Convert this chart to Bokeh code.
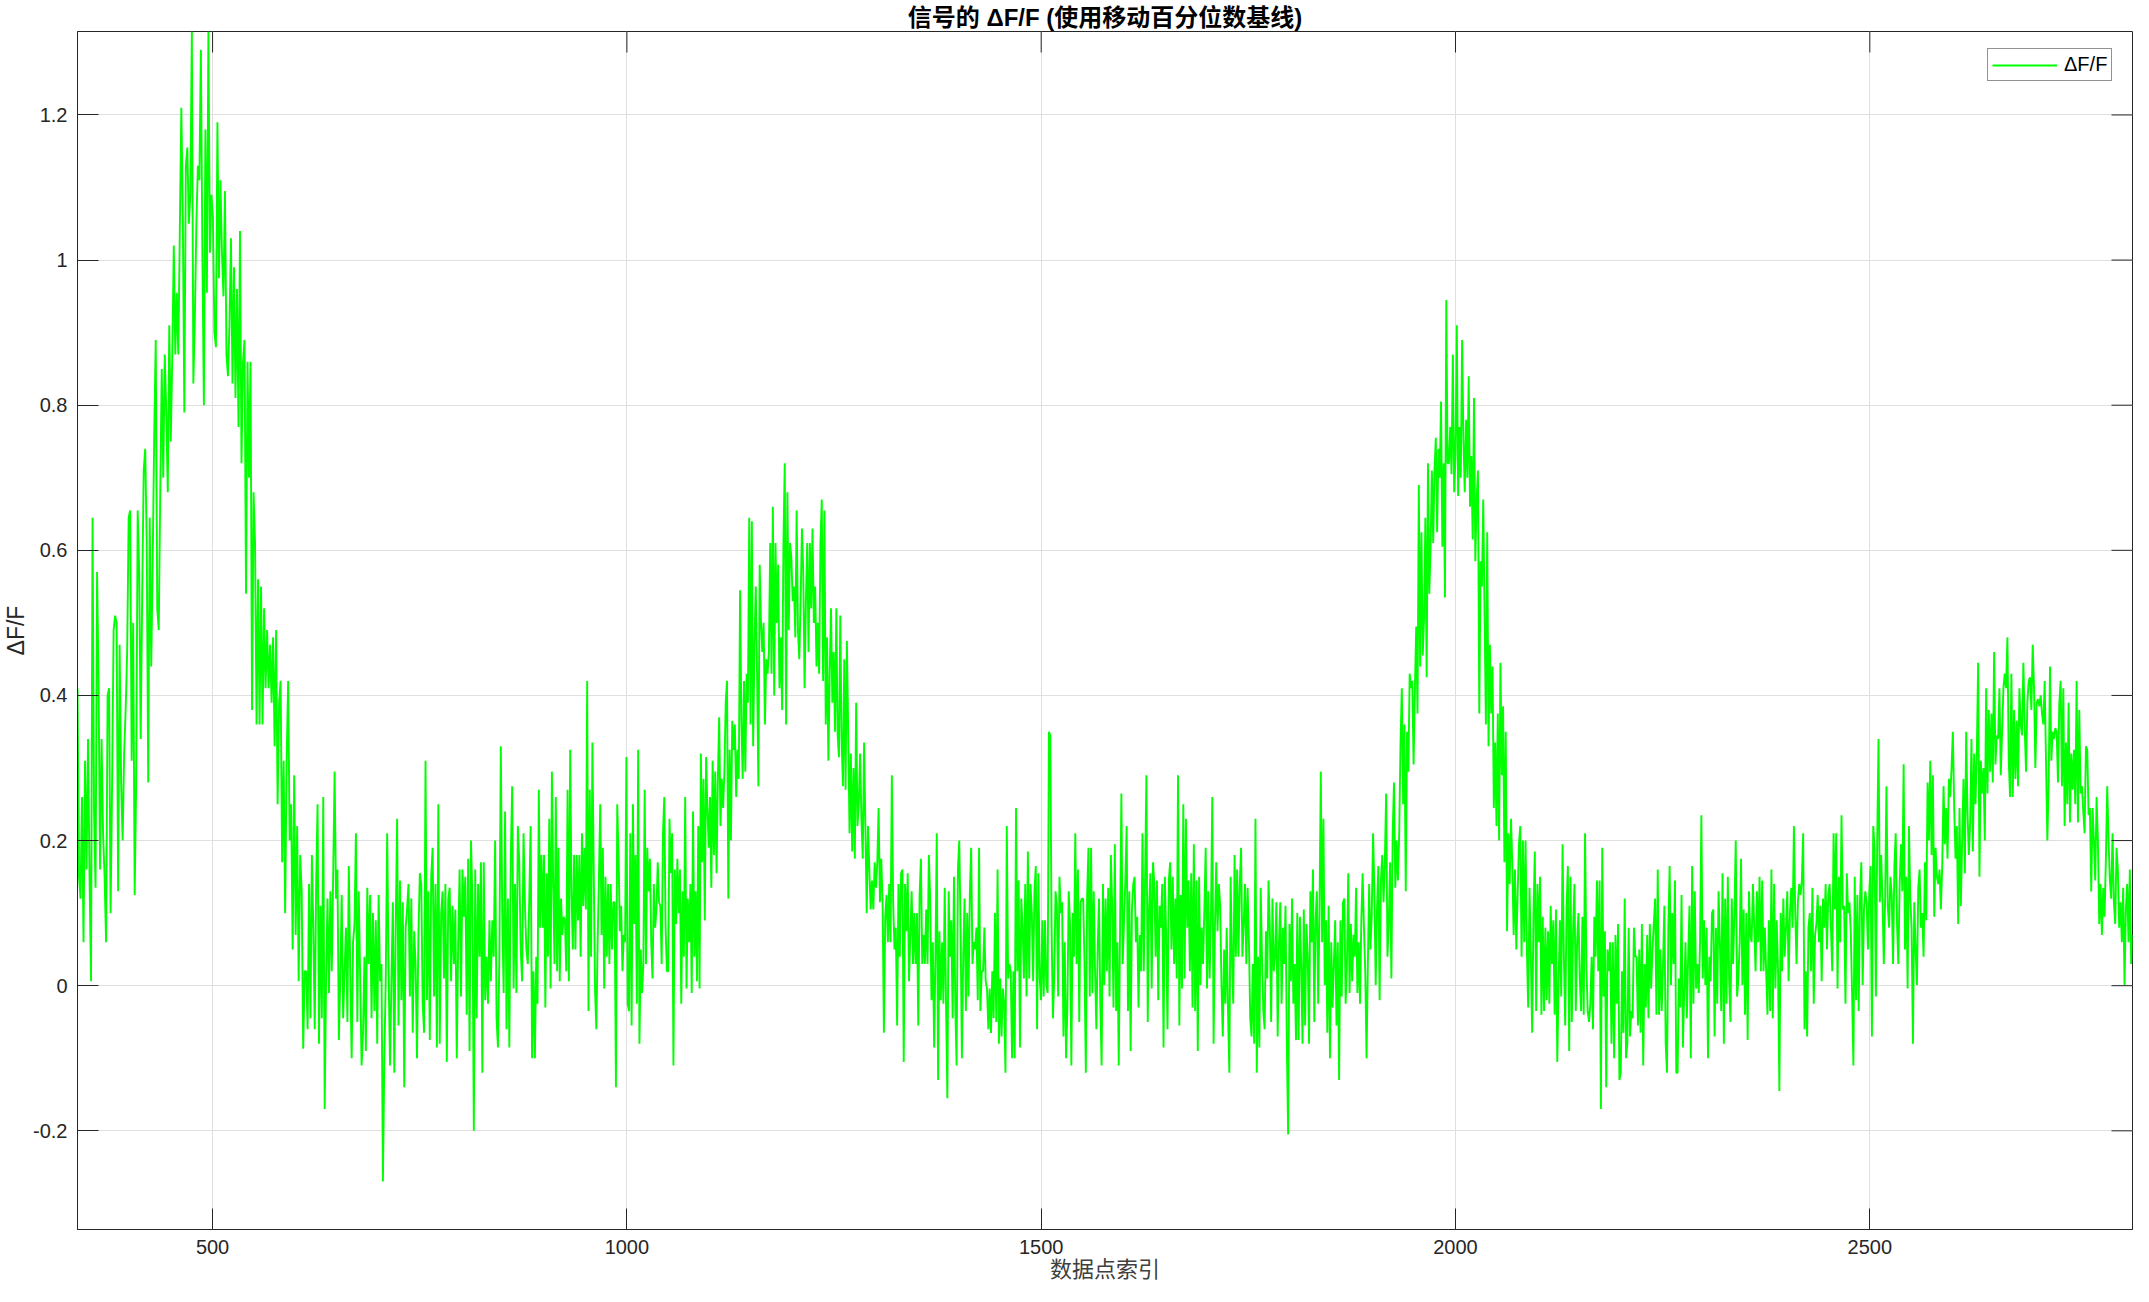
import numpy as np
from bokeh.plotting import figure
from bokeh.models import Range1d, FixedTicker
from bokeh.embed import file_html
from bokeh.resources import INLINE

title_text = "信号的 ΔF/F (使用移动百分位数基线)"
x_label = "数据点索引"
y_label = "ΔF/F"
series_name = "ΔF/F"
x_ticks = [500, 1000, 1500, 2000, 2500]
y_ticks = [-0.2, 0, 0.2, 0.4, 0.6, 0.8, 1.0, 1.2]
x_limits = (337, 2817)
y_limits = (-0.336, 1.315)

# start index of each read-off segment of the trace
seg_starts = [337, 613, 889, 1165, 1441, 1716, 1992, 2268, 2544]

seg_a = [0.41, 0.15, 0.12, 0.26, 0.06, 0.31, 0.16, 0.34, 0.15, 0.006, 0.645, 0.24, 0.135, 0.57, 0.42, 0.16, 0.34, 0.21, 0.15, 0.06,
         0.40, 0.41, 0.10, 0.28, 0.49, 0.51, 0.50, 0.13, 0.47, 0.28, 0.20, 0.32, 0.38, 0.46, 0.645, 0.655, 0.31, 0.50, 0.125, 0.28,
         0.655, 0.57, 0.34, 0.54, 0.71, 0.74, 0.61, 0.28, 0.645, 0.44, 0.59, 0.76, 0.89, 0.52, 0.49, 0.68, 0.85, 0.70, 0.87, 0.79,
         0.68, 0.91, 0.75, 0.87, 1.02, 0.87, 0.955, 0.87, 1.04, 1.21, 1.06, 0.79, 1.13, 1.155, 1.05, 1.09, 1.315, 0.83, 0.92, 1.05,
         1.13, 1.11, 1.29, 1.01, 0.80, 1.18, 0.955, 1.315, 1.01, 1.09, 1.06, 0.90, 0.88, 1.19, 0.975, 1.11, 1.01, 0.95, 1.095, 0.87,
         0.84, 0.91, 1.03, 0.83, 0.99, 0.81, 0.96, 0.77, 1.04, 0.72, 0.86, 0.89, 0.54, 0.86, 0.70, 0.86, 0.38, 0.68, 0.61, 0.36,
         0.56, 0.36, 0.55, 0.36, 0.52, 0.41, 0.49, 0.41, 0.47, 0.39, 0.48, 0.33, 0.49, 0.25, 0.39, 0.42, 0.17, 0.31, 0.10, 0.31,
         0.42, 0.20, 0.25, 0.05, 0.29, 0.07, 0.22, 0.006, 0.18, 0.13, -0.087, 0.02]

seg_b = [0.02, -0.06, 0.14, -0.045, 0.18, 0.08, -0.06, 0.14, 0.25, -0.08, 0.11, -0.045, 0.26, -0.17, 0.01, 0.12, -0.01, 0.13, 0.02, 0.155,
         0.295, 0.12, 0.16, -0.075, 0.01, 0.125, -0.045, 0.02, 0.08, -0.05, 0.165, 0.02, -0.1, 0.06, 0.085, 0.21, -0.05, 0.13, 0.01, -0.11,
         -0.065, 0.04, -0.09, 0.135, 0.03, 0.125, -0.045, 0.1, -0.035, 0.09, -0.08, 0.125, 0.006, 0.03, -0.27, -0.1, 0.01, 0.21, 0.02, -0.11,
         0.006, 0.115, -0.12, 0.08, 0.23, -0.055, 0.145, -0.02, 0.115, -0.14, 0.08, 0.105, 0.14, -0.015, 0.12, -0.065, 0.075, 0.03, -0.1, 0.07,
         0.155, 0.14, -0.025, -0.065, 0.31, -0.02, 0.13, -0.075, 0.15, 0.19, -0.015, 0.14, -0.085, 0.25, -0.08, 0.1, 0.13, 0.01, 0.14, -0.105,
         0.12, 0.135, 0.006, 0.11, 0.03, 0.105, -0.1, 0.06, 0.16, -0.015, 0.16, 0.095, 0.15, -0.04, 0.175, -0.09, 0.2, 0.12, -0.2, 0.16,
         -0.045, 0.14, 0.04, 0.17, -0.12, 0.17, -0.02, 0.04, -0.025, 0.09, 0.006, 0.09, 0.04, 0.2, -0.045, -0.085, 0.04, 0.33, 0.1, -0.01,
         0.24, -0.06, 0.12, -0.085, 0.175, 0.275, -0.004, 0.14, -0.01, 0.22, 0.17, 0.05, 0.006, 0.21, 0.11, 0.05, 0.03, 0.115, 0.22, -0.1,
         0.02]

seg_c = [-0.1, 0.04, -0.025, 0.27, 0.08, 0.18, 0.08, 0.18, -0.03, 0.155, 0.04, 0.23, -0.004, 0.295, 0.14, 0.03, 0.26, 0.02, 0.19, 0.006,
         0.12, 0.07, 0.095, 0.09, 0.02, 0.27, 0.006, 0.325, 0.13, 0.05, 0.18, 0.05, 0.18, 0.09, 0.18, 0.04, 0.21, 0.11, 0.19, 0.105,
         0.42, -0.035, 0.27, 0.04, 0.335, 0.16, -0.004, -0.06, 0.06, 0.15, 0.25, 0.07, 0.19, -0.004, 0.15, 0.04, 0.14, 0.03, 0.14, 0.05,
         0.115, 0.115, -0.14, 0.25, 0.18, 0.075, 0.11, 0.02, 0.07, 0.06, 0.315, -0.025, -0.035, 0.21, -0.055, 0.25, 0.085, 0.18, -0.025, 0.325,
         -0.08, 0.05, -0.01, 0.03, 0.27, 0.03, 0.19, 0.13, 0.175, 0.06, 0.01, 0.14, 0.08, 0.105, 0.17, 0.115, 0.11, 0.03, 0.21, 0.26,
         0.08, 0.02, 0.02, 0.23, 0.155, 0.21, -0.11, 0.16, 0.085, 0.175, 0.1, 0.16, -0.025, 0.13, 0.04, 0.26, -0.004, 0.12, 0.06, 0.14,
         -0.01, 0.24, 0.04, 0.13, 0.006, 0.22, -0.004, 0.32, 0.17, 0.285, 0.09, 0.315, 0.245, 0.19, 0.26, 0.135, 0.31, 0.18, 0.295, 0.155,
         0.285, 0.37, 0.22, 0.285, 0.245, 0.295, 0.39, 0.42, 0.12, 0.325, 0.2, 0.365, 0.325, 0.36, 0.26, 0.325, 0.285, 0.545, 0.365, 0.285,
         0.42, 0.295, 0.43, 0.39, 0.645, 0.36, 0.64, 0.33, 0.47, 0.55, 0.43, 0.275, 0.58, 0.50, 0.46]

seg_d = [0.5, 0.36, 0.45, 0.43, 0.46, 0.61, 0.43, 0.66, 0.40, 0.61, 0.50, 0.58, 0.41, 0.48, 0.38, 0.61, 0.72, 0.36, 0.68, 0.49,
         0.61, 0.59, 0.53, 0.55, 0.48, 0.655, 0.49, 0.45, 0.53, 0.63, 0.57, 0.41, 0.53, 0.61, 0.46, 0.61, 0.52, 0.63, 0.50, 0.55,
         0.44, 0.50, 0.43, 0.61, 0.67, 0.42, 0.655, 0.36, 0.48, 0.31, 0.43, 0.52, 0.39, 0.46, 0.35, 0.52, 0.345, 0.315, 0.51, 0.34,
         0.275, 0.45, 0.27, 0.475, 0.35, 0.21, 0.32, 0.185, 0.30, 0.175, 0.39, 0.22, 0.25, 0.32, 0.23, 0.175, 0.335, 0.22, 0.10, 0.22,
         0.16, 0.105, 0.145, 0.105, 0.17, 0.135, 0.17, 0.245, 0.115, 0.175, 0.115, -0.065, 0.095, 0.125, 0.06, 0.14, 0.06, 0.29, 0.115, 0.05,
         0.08, -0.055, 0.14, 0.04, 0.155, 0.16, -0.105, 0.14, 0.075, 0.155, 0.006, 0.07, 0.13, 0.03, 0.10, 0.03, 0.10, -0.055, 0.125, 0.175,
         0.03, 0.07, 0.03, 0.105, 0.03, 0.18, 0.12, -0.02, 0.06, -0.085, 0.04, 0.21, -0.13, 0.075, -0.02, 0.06, -0.025, 0.135, -0.025, -0.155,
         0.13, 0.04, 0.09, -0.045, 0.15, -0.03, -0.11, 0.16, 0.2, 0.08, -0.1, 0.04, 0.12, -0.035, 0.10, -0.015, 0.125, 0.19, 0.03, 0.06,
         0.05, 0.08, -0.02, 0.19, -0.035, 0.02, 0.02, 0.08, 0.006, -0.004, -0.06, -0.004, -0.065]

seg_e = [0.02, -0.045, 0.10, -0.05, 0.16, -0.08, 0.01, -0.07, -0.004, -0.025, -0.12, 0.22, 0.01, 0.03, 0.02, -0.1, 0.02, -0.1, 0.245, 0.02,
         0.145, -0.085, 0.12, 0.08, 0.01, 0.14, -0.015, 0.185, 0.01, 0.14, 0.10, 0.006, 0.13, 0.165, -0.06, 0.155, 0.01, -0.02, 0.09, -0.015,
         0.09, 0.001, -0.01, 0.35, 0.345, 0.08, -0.045, 0.01, 0.13, 0.11, -0.015, 0.15, 0.10, 0.115, -0.07, 0.06, -0.1, -0.03, 0.13, 0.085,
         -0.11, 0.10, 0.04, 0.21, 0.03, 0.16, -0.05, 0.115, 0.12, 0.12, 0.03, -0.12, 0.125, 0.19, -0.015, 0.19, -0.01, 0.13, 0.02, -0.06,
         0.05, 0.12, -0.025, -0.11, 0.14, 0.001, 0.12, 0.02, 0.135, -0.015, 0.18, 0.11, -0.03, 0.195, -0.035, 0.06, -0.11, 0.08, 0.265, 0.03,
         0.09, 0.145, 0.22, -0.035, 0.13, -0.09, 0.105, 0.14, 0.15, 0.06, 0.095, -0.03, 0.07, 0.02, 0.21, 0.02, 0.15, 0.29, -0.05, 0.105,
         0.155, -0.004, 0.17, 0.14, 0.04, 0.145, -0.02, 0.11, 0.08, 0.14, -0.085, 0.15, 0.07, -0.06, 0.145, 0.17, 0.05, 0.15, 0.03, 0.12,
         0.01, 0.29, -0.055, 0.125, -0.004, 0.25, 0.01, 0.23, 0.08, 0.145, 0.02, 0.155, -0.03, 0.195, -0.035, 0.145, -0.09, 0.15, 0.001, 0.08,
         0.03, 0.105, 0.19, -0.004, 0.13, 0.01, 0.095, 0.26, -0.08, 0.08, 0.17, 0.075, 0.14]

seg_f = [0.11, 0.001, -0.07, 0.05, -0.025, 0.08, -0.035, -0.12, 0.15, 0.04, -0.025, 0.18, 0.04, 0.16, 0.04, 0.14, 0.19, 0.04, 0.085, 0.14,
         0.03, 0.135, 0.06, -0.045, -0.07, 0.03, -0.08, 0.23, -0.12, 0.04, -0.085, 0.135, 0.04, -0.035, -0.06, 0.075, 0.01, 0.145, 0.08, -0.05,
         0.12, 0.02, 0.04, 0.115, -0.07, 0.06, 0.115, -0.025, 0.08, 0.03, 0.11, -0.08, -0.205, 0.085, 0.006, 0.12, -0.025, 0.03, -0.075, 0.10,
         -0.075, 0.095, 0.03, -0.08, 0.105, -0.055, 0.085, 0.04, -0.08, 0.13, 0.06, 0.16, -0.05, 0.09, 0.13, -0.025, 0.10, 0.295, 0.06, 0.23,
         0.001, 0.09, -0.065, 0.11, -0.1, 0.06, -0.03, 0.03, 0.09, -0.055, 0.06, -0.13, 0.09, -0.015, 0.115, 0.12, -0.025, 0.03, 0.155, -0.01,
         0.085, 0.006, 0.07, 0.04, 0.135, -0.01, 0.06, -0.025, 0.09, 0.155, 0.08, 0.02, -0.1, 0.03, 0.14, 0.05, 0.10, 0.21, 0.13, 0.001,
         0.105, 0.165, -0.02, 0.145, 0.18, 0.115, 0.17, 0.265, 0.04, 0.085, 0.17, 0.01, 0.21, 0.28, 0.135, 0.2, 0.145, 0.21, 0.335, 0.41,
         0.25, 0.36, 0.13, 0.35, 0.295, 0.43, 0.41, 0.42, 0.305, 0.41, 0.495, 0.375, 0.69, 0.44, 0.625, 0.455, 0.505, 0.645, 0.425, 0.72,
         0.54, 0.605, 0.71, 0.61, 0.71, 0.755, 0.625, 0.74, 0.70, 0.805, 0.605, 0.72, 0.535, 0.945, 0.72]

seg_g = [0.72, 0.77, 0.705, 0.87, 0.68, 0.73, 0.91, 0.675, 0.77, 0.70, 0.89, 0.755, 0.68, 0.78, 0.70, 0.84, 0.66, 0.73, 0.615, 0.81,
         0.585, 0.67, 0.71, 0.375, 0.585, 0.55, 0.67, 0.51, 0.36, 0.625, 0.33, 0.47, 0.375, 0.44, 0.245, 0.335, 0.22, 0.375, 0.2, 0.445,
         0.29, 0.385, 0.17, 0.35, 0.075, 0.21, 0.14, 0.23, 0.165, 0.07, 0.16, 0.05, 0.125, 0.195, 0.22, 0.04, 0.2, 0.06, 0.2, 0.05,
         -0.03, 0.135, 0.04, -0.065, 0.10, 0.185, -0.035, 0.14, 0.06, 0.15, -0.04, 0.095, -0.035, 0.08, -0.02, 0.075, -0.025, 0.11, 0.03, 0.09,
         -0.04, 0.105, -0.105, 0.006, 0.09, -0.015, 0.195, 0.04, -0.055, 0.105, 0.165, -0.09, 0.15, -0.05, 0.08, 0.14, -0.035, 0.06, 0.10, 0.01,
         -0.035, 0.095, -0.04, 0.21, 0.03, -0.035, -0.05, -0.025, 0.04, -0.06, 0.095, 0.04, 0.145, 0.02, 0.145, -0.17, 0.19, -0.015, 0.075, -0.14,
         0.05, 0.02, 0.06, -0.08, 0.06, -0.1, 0.07, -0.025, 0.085, -0.13, -0.12, 0.02, -0.065, 0.12, -0.1, -0.08, 0.08, -0.07, -0.035, -0.045,
         0.08, 0.04, 0.04, -0.055, 0.05, -0.065, 0.085, -0.11, 0.03, -0.03, 0.07, -0.045, 0.085, -0.004, 0.05, 0.085, 0.12, -0.04, 0.16, -0.04,
         0.05, -0.035, 0.03, 0.11, -0.08, -0.12, 0.08, 0.165, 0.001, 0.10, 0.03, 0.145, -0.12]

seg_h = [-0.12, 0.01, -0.03, 0.125, -0.085, -0.01, 0.06, -0.045, 0.04, 0.11, -0.1, 0.165, -0.025, 0.13, -0.004, 0.03, -0.01, 0.06, 0.235, 0.01,
         0.09, 0.001, 0.08, -0.1, 0.04, 0.006, 0.10, 0.105, -0.07, 0.08, -0.025, 0.13, 0.06, -0.035, 0.155, -0.08, 0.12, -0.025, 0.15, 0.006,
         -0.05, 0.12, 0.03, 0.10, 0.2, -0.015, 0.01, 0.06, 0.175, 0.001, 0.105, -0.04, 0.10, -0.075, 0.13, 0.07, 0.06, 0.14, 0.08, 0.02,
         0.13, 0.06, 0.15, 0.02, 0.145, 0.02, 0.08, 0.02, -0.04, 0.09, -0.035, 0.16, -0.045, 0.14, -0.004, 0.09, 0.02, -0.145, 0.10, 0.02,
         0.12, 0.04, 0.08, 0.13, 0.006, 0.10, 0.135, 0.08, 0.22, 0.10, 0.03, 0.115, 0.14, 0.125, 0.145, 0.21, -0.06, 0.02, -0.07, 0.08,
         0.10, 0.02, 0.135, -0.025, 0.07, 0.085, 0.125, 0.06, 0.11, 0.006, 0.12, 0.08, 0.14, 0.05, 0.125, 0.14, 0.08, 0.02, 0.21, 0.105,
         0.21, -0.004, 0.15, 0.06, 0.235, 0.105, 0.11, -0.025, 0.155, 0.10, 0.115, 0.075, -0.01, -0.11, 0.15, -0.02, 0.125, -0.035, 0.12, 0.17,
         0.001, 0.105, 0.13, 0.115, 0.05, 0.13, 0.165, -0.07, 0.22, 0.19, -0.015, 0.2, 0.34, 0.115, 0.18, 0.12, 0.03, 0.12, 0.275, 0.11,
         0.08, 0.15, 0.125, 0.03, 0.165, 0.21, 0.085, 0.03, 0.14, 0.195, 0.13, 0.305, 0.05]

seg_i = [0.15, -0.004, 0.22, 0.12, 0.08, -0.08, 0.115, 0.05, 0.001, 0.135, 0.16, 0.08, 0.10, 0.04, 0.17, 0.09, 0.28, 0.2, 0.31, 0.18,
         0.29, 0.095, 0.19, 0.15, 0.14, 0.16, 0.105, 0.165, 0.275, 0.195, 0.245, 0.175, 0.285, 0.26, 0.30, 0.35, 0.245, 0.175, 0.22, 0.085,
         0.245, 0.11, 0.2, 0.285, 0.155, 0.35, 0.24, 0.18, 0.225, 0.34, 0.185, 0.32, 0.25, 0.32, 0.445, 0.15, 0.31, 0.265, 0.30, 0.2,
         0.41, 0.265, 0.38, 0.295, 0.375, 0.28, 0.46, 0.305, 0.345, 0.34, 0.41, 0.29, 0.35, 0.41, 0.43, 0.41, 0.48, 0.31, 0.26, 0.43,
         0.26, 0.38, 0.285, 0.365, 0.275, 0.41, 0.36, 0.345, 0.445, 0.355, 0.295, 0.39, 0.42, 0.425, 0.38, 0.47, 0.41, 0.30, 0.39, 0.395,
         0.385, 0.40, 0.375, 0.36, 0.42, 0.31, 0.2, 0.28, 0.44, 0.31, 0.35, 0.34, 0.355, 0.35, 0.28, 0.39, 0.42, 0.275, 0.41, 0.22,
         0.335, 0.25, 0.39, 0.225, 0.32, 0.27, 0.325, 0.25, 0.42, 0.225, 0.38, 0.265, 0.275, 0.24, 0.21, 0.33, 0.325, 0.235, 0.245, 0.13,
         0.245, 0.2, 0.145, 0.26, 0.2, 0.085, 0.14, 0.07, 0.135, 0.095, 0.175, 0.275, 0.2, 0.145, 0.12, 0.21, 0.115, 0.085, 0.19, 0.16,
         0.08, 0.115, 0.06, 0.135, 0.001, 0.105, 0.14, 0.06, 0.16, 0.03, 0.07]

segments = [seg_a, seg_b, seg_c, seg_d, seg_e, seg_f, seg_g, seg_h, seg_i]

xs, ys = [], []
for k, seg in enumerate(segments):
    a = seg_starts[k]
    last = k == len(segments) - 1
    b = x_limits[1] if last else seg_starts[k + 1]
    xs.extend(np.linspace(a, b, len(seg), endpoint=last).tolist())
    ys.extend(seg)

FONT = "Liberation Sans, Noto Sans CJK SC"
AX = "#262626"
TICK_LEN = 21

p = figure(width=2133, height=1286, output_backend="svg", toolbar_location=None,
           x_range=Range1d(*x_limits), y_range=Range1d(*y_limits),
           min_border_left=77, min_border_right=1, min_border_top=31, min_border_bottom=57,
           background_fill_color="white", border_fill_color="white")

p.title.text = title_text
p.title.align = "center"
p.title.text_font = FONT
p.title.text_font_size = "24px"
p.title.text_font_style = "bold"
p.title.text_color = "#000000"
p.title.standoff = 2

p.outline_line_color = AX
p.outline_line_width = 1

xt = FixedTicker(ticks=x_ticks)
yt = FixedTicker(ticks=y_ticks)
p.xgrid.ticker = xt
p.ygrid.ticker = yt
p.grid.grid_line_color = "#DFDFDF"
p.grid.grid_line_width = 1

p.line(xs, ys, line_color="#00FF00", line_width=1.9, legend_label=series_name)

# inward ticks on the top and right edges of the box
p.ray(x=x_ticks, y=[y_limits[1]] * len(x_ticks), length=TICK_LEN, length_units="screen",
      angle=-np.pi / 2, line_color=AX, line_width=1)
p.ray(x=[x_limits[1]] * len(y_ticks), y=y_ticks, length=TICK_LEN, length_units="screen",
      angle=np.pi, line_color=AX, line_width=1)

for ax in (p.xaxis[0], p.yaxis[0]):
    ax.major_tick_in = TICK_LEN
    ax.major_tick_out = 0
    ax.minor_tick_line_color = None
    ax.axis_line_color = AX
    ax.major_tick_line_color = AX
    ax.major_label_text_font = FONT
    ax.major_label_text_font_size = "20px"
    ax.major_label_text_color = AX
    ax.axis_label_text_font_style = "normal"
    ax.axis_label_text_font = FONT

p.xaxis[0].ticker = xt
p.yaxis[0].ticker = yt
p.yaxis[0].major_label_overrides = {v: f"{v:g}" for v in y_ticks}

p.xaxis[0].major_label_standoff = 10
p.xaxis[0].axis_label = x_label
p.xaxis[0].axis_label_text_font_size = "22px"
p.xaxis[0].axis_label_text_color = "#404040"
p.xaxis[0].axis_label_standoff = 0

p.yaxis[0].major_label_standoff = 10
p.yaxis[0].axis_label = y_label
p.yaxis[0].axis_label_text_font_size = "23px"
p.yaxis[0].axis_label_text_color = AX
p.yaxis[0].axis_label_standoff = 1

lg = p.legend[0]
lg.location = (1910, 1148)
lg.border_line_color = AX
lg.border_line_width = 1
lg.background_fill_color = "white"
lg.background_fill_alpha = 1
lg.label_text_font = FONT
lg.label_text_font_size = "20px"
lg.label_text_color = "#000000"
lg.glyph_width = 65
lg.glyph_height = 22
lg.label_height = 22
lg.label_standoff = 7
lg.padding = 4
lg.margin = 0
lg.spacing = 0

open("out.html", "w").write(file_html(p, INLINE))
